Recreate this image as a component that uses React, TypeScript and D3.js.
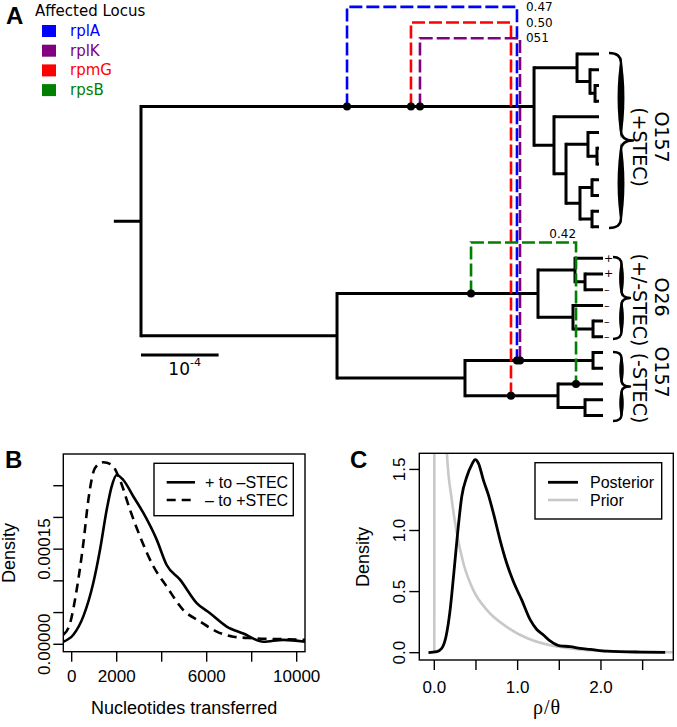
import React from 'react';
import * as d3 from 'd3';

const W = 677, H = 727;

// ---------- Panel A data ----------
const treeNewick =
  "((((R0:0.283,(R1:0.116,(R2:0.051,R3:0.051):0.065):0.167):0.554,(R4:0.580,((R5:0.142,(R6:0.026,R7:0.026):0.116):0.283,((R8:0.09,R9:0.09):0.155,(R10:0.09,R11:0.09):0.155):0.180):0.155):0.257)Astec:5.065,(((R13:0.361,(R14:0.232,R15:0.232):0.129):0.477,(R16:0.387,(R17:0.129,R18:0.129):0.258):0.451)O26:2.590,((R19:0.129,R20:0.129)Bm1:1.650,(R21:0.580,(R22:0.232,R23:0.232):0.348)Bm2:1.199):1.649)Bot:2.526)root;";

const loci = ["rplA", "rplK", "rpmG", "rpsB"];
const locusColors = ["#0000ff", "#800080", "#ff0000", "#008000"];

const eventLocus = ["rplA", "rpmG", "rplK", "rpsB"];
const eventDonor = ["Astec", "Astec", "Astec", "O26"];
const eventDonorPos = [2.655, 3.479, 3.595, 4.253];
const eventRecip = ["Bm1", "Bm2", "Bm1", "R21"];
const eventRecipPos = [4.845, 4.768, 4.884, 5.606];
const eventTopRow = [-3, -2, -1, 12];
const eventValue = ["0.47", "0.50", "051", "0.42"];

const signLeaves = ["R13", "R14", "R15", "R16", "R17", "R18"];
const signs = ["+", "+", "\u2013", "\u2013", "\u2013", "\u2013"];

// ---------- Panel B data ----------
const bSolidX = [-373, 73, 517, 962, 1259, 1556, 1778, 2000, 2296, 2741, 3185, 3778, 4222, 4815, 5556, 6148, 6889, 7630, 8519, 9407, 10370];
const bSolidY = [4e-6, 1.5e-5, 4.4e-5, 9.7e-5, 1.49e-4, 2.12e-4, 2.49e-4, 2.67e-4, 2.59e-4, 2.33e-4, 2.07e-4, 1.65e-4, 1.25e-4, 1.02e-4, 6.5e-5, 4.9e-5, 2.8e-5, 1.7e-5, 4e-6, 7e-6, 4e-6];
const bDashX = [-373, -74, 222, 517, 741, 1037, 1407, 1778, 2148, 2593, 3037, 3630, 4222, 4963, 5704, 6444, 7185, 8074, 9407, 10370];
const bDashY = [1.5e-5, 3.3e-5, 8.6e-5, 1.59e-4, 2.28e-4, 2.78e-4, 2.87e-4, 2.83e-4, 2.59e-4, 2.12e-4, 1.7e-4, 1.23e-4, 9.1e-5, 5.4e-5, 3.6e-5, 2e-5, 1.2e-5, 9.5e-6, 8e-6, 7e-6];
const bXTicks = [0, 2000, 4000, 6000, 8000, 10000];
const bXTickLabels = ["0", "2000", "", "6000", "", "10000"];
const bYTicks = [0, 5e-5, 1e-4, 1.5e-4, 2e-4, 2.5e-4];
const bYTickLabels = ["0.00000", "", "", "0.00015", "", ""];
const bLegend = ["+ to \u2013STEC", "\u2013 to +STEC"];

// ---------- Panel C data ----------
const cPostX = [-0.07, 0.03, 0.09, 0.14, 0.19, 0.23, 0.28, 0.33, 0.39, 0.45, 0.49, 0.53, 0.59, 0.65, 0.71, 0.79, 0.87, 0.95, 1.05, 1.15, 1.23, 1.31, 1.39, 1.51, 1.63, 1.75, 1.87, 2.07, 2.47, 2.77];
const cPostY = [0.0, 0.008, 0.036, 0.13, 0.35, 0.62, 0.98, 1.28, 1.44, 1.54, 1.58, 1.55, 1.41, 1.29, 1.14, 0.92, 0.73, 0.58, 0.43, 0.27, 0.19, 0.145, 0.096, 0.055, 0.05, 0.035, 0.027, 0.013, 0.005, 0.003];
const cPriorX = [0, 0.001, 0.05, 0.1, 0.15, 0.21, 0.27, 0.35, 0.47, 0.63, 0.87, 1.11, 1.47, 2.07, 2.87];
const cPriorY = [0, 40, 6, 2.6, 1.65, 1.25, 0.98, 0.73, 0.51, 0.35, 0.21, 0.12, 0.05, 0.013, 0.004];
const cXTicks = [0, 0.5, 1, 1.5, 2, 2.5];
const cXTickLabels = ["0.0", "", "1.0", "", "2.0", ""];
const cYTicks = [0, 0.5, 1, 1.5];
const cYTickLabels = ["0.0", "0.5", "1.0", "1.5"];
const cLegend = ["Posterior", "Prior"];

type NNode = { name: string; len: number; children: NNode[] };

function parseNewick(s: string): NNode {
  let i = 0;
  function node(): NNode {
    const n: NNode = { name: "", len: 0, children: [] };
    if (s[i] === "(") {
      i++;
      n.children.push(node());
      while (s[i] === ",") { i++; n.children.push(node()); }
      i++;
    }
    let name = "";
    while (i < s.length && !",():;".includes(s[i])) name += s[i++];
    n.name = name;
    if (s[i] === ":") {
      i++;
      let num = "";
      while (i < s.length && !",();".includes(s[i])) num += s[i++];
      n.len = +num;
    }
    return n;
  }
  return node();
}

function braceShapes(x0: number, x1: number, y0: number, y1: number) {
  const ym = (y0 + y1) / 2;
  const h = y1 - y0;
  const r = Math.min(0.09 * h, 10);
  const xm = x0 + 0.5 * (x1 - x0);
  const center = `M${x0},${y0} Q${xm},${y0} ${xm},${y0 + r} L${xm},${ym - r} Q${xm},${ym} ${x1},${ym} Q${xm},${ym} ${xm},${ym + r} L${xm},${y1 - r} Q${xm},${y1} ${x0},${y1}`;
  const t = Math.min(4.6, 2 + h * 0.015);
  const lens = (ya: number, yb: number) => {
    const k = yb - ya;
    return `M${xm},${ya} C${xm - t},${ya + k * 0.3} ${xm - t},${yb - k * 0.3} ${xm},${yb} C${xm + t},${yb - k * 0.3} ${xm + t},${ya + k * 0.3} ${xm},${ya}Z`;
  };
  return { center, lenses: [lens(y0 + r * 0.4, ym - r * 0.2), lens(ym + r * 0.2, y1 - r * 0.4)] };
}

const SANS = "Liberation Sans, Arial, sans-serif";
const DV = "DejaVu Sans, sans-serif";

export default function App() {
  // ---------- tree layout ----------
  const root: any = d3.hierarchy(parseNewick(treeNewick), (d: NNode) => (d.children.length ? d.children : null));
  root.eachBefore((n: any) => { n.dx = n.parent ? n.parent.dx + n.data.len : 0; });
  root.eachAfter((n: any) => {
    if (!n.children) n.row = +n.data.name.slice(1);
    else n.row = (n.children[0].row + n.children[n.children.length - 1].row) / 2;
  });
  const byName = new Map<string, any>();
  root.each((n: any) => { if (n.data.name) byName.set(n.data.name, n); });

  const xT = d3.scaleLinear().domain([0, 1]).range([141, 218.6]);
  const yT = d3.scaleLinear().domain([0, 23]).range([54, 415.4]);

  const hp = d3.path();
  const vp = d3.path();
  root.each((n: any) => {
    if (n.parent) { hp.moveTo(xT(n.parent.dx), yT(n.row)); hp.lineTo(xT(n.dx), yT(n.row)); }
    if (n.children) {
      vp.moveTo(xT(n.dx), yT(n.children[0].row));
      vp.lineTo(xT(n.dx), yT(n.children[n.children.length - 1].row));
    }
  });
  hp.moveTo(xT(-0.35), yT(root.row)); hp.lineTo(xT(0), yT(root.row));

  const events = eventLocus.map((loc, i) => {
    const d = byName.get(eventDonor[i]);
    const r = byName.get(eventRecip[i]);
    const color = locusColors[loci.indexOf(loc)];
    const dx = xT(eventDonorPos[i]), dy = yT(d.row);
    const rx = xT(eventRecipPos[i]), ry = yT(r.row);
    const ty = yT(eventTopRow[i]);
    return { color, dx, dy, rx, ry, ty, value: eventValue[i], top: eventTopRow[i] };
  });
  const topLabelX = d3.max(events.filter(e => e.top < 0), e => e.rx) as number;

  // ---------- panel B ----------
  const bx = d3.scaleLinear().domain([-373, 10370]).range([63.3, 305]);
  const by = d3.scaleLinear().domain([-1.17e-5, 3.0e-4]).range([651.7, 454]);
  const lineB = d3.line<number>().curve(d3.curveMonotoneX);
  const bSolid = lineB(bSolidX.map((x, i) => [bx(x), by(bSolidY[i])] as any) as any);
  const bDash = lineB(bDashX.map((x, i) => [bx(x), by(bDashY[i])] as any) as any);

  // ---------- panel C ----------
  const cx = d3.scaleLinear().domain([-0.18, 2.868]).range([419.3, 673.3]);
  const cy = d3.scaleLinear().domain([-0.06, 1.632]).range([660, 453.3]);
  const cPost = lineB(cPostX.map((x, i) => [cx(x), cy(cPostY[i])] as any) as any);
  const cPrior = lineB(cPriorX.map((x, i) => [cx(x), cy(cPriorY[i])] as any) as any);

  const [bL, bR] = bx.range();
  const [bB, bT] = by.range();
  const [cL, cR] = cx.range();
  const [cB, cT] = cy.range();

  const braces = [[609, 633, 53, 228], [613, 630, 257, 339], [613, 630, 352, 421]];

  return (
    <svg width={W} height={H} style={{ position: "absolute", left: 0, top: 0, background: "#fff" }}>
      <defs>
        <clipPath id="clipB"><rect x={bL} y={bT} width={bR - bL} height={bB - bT} /></clipPath>
        <clipPath id="clipC"><rect x={cL} y={cT} width={cR - cL} height={cB - cT} /></clipPath>
      </defs>

      {/* ================= Panel A ================= */}
      <text x={6} y={24} fontFamily={SANS} fontWeight="bold" fontSize={24}>A</text>
      <text x={35} y={16} fontFamily={DV} fontSize={15}>Affected Locus</text>
      {loci.map((l, i) => (
        <g key={l}>
          <rect x={42} y={25 + i * 19.7} width={14} height={12} fill={locusColors[i]} />
          <text x={70} y={31 + i * 19.7} dominantBaseline="central" fontFamily={DV} fontSize={15} fill={locusColors[i]}>{l}</text>
        </g>
      ))}

      <path d={hp.toString()} stroke="#000" strokeWidth={3} fill="none" strokeLinecap="butt" />
      <path d={vp.toString()} stroke="#000" strokeWidth={3} fill="none" strokeLinecap="square" />

      {signLeaves.map((nm, i) => {
        const n = byName.get(nm);
        return (
          <text key={nm} x={xT(n.dx) + 1} y={yT(n.row)} dominantBaseline="central" fontFamily={DV} fontSize={11}>{signs[i]}</text>
        );
      })}

      {events.map((e, i) => (
        <path key={i} d={`M${e.dx},${e.dy} V${e.ty} H${e.rx} V${e.ry}`} stroke={e.color} strokeWidth={2.6}
          fill="none" strokeDasharray="13,4" />
      ))}
      {events.map((e, i) => (
        <g key={"d" + i}>
          <circle cx={e.dx} cy={e.dy} r={4} fill="#000" />
          <circle cx={e.rx} cy={e.ry} r={4} fill="#000" />
        </g>
      ))}
      {events.map((e, i) =>
        e.top < 0 ? (
          <text key={"l" + i} x={topLabelX + 6} y={e.ty} dominantBaseline="central" fontFamily={DV} fontSize={12}>{e.value}</text>
        ) : (
          <text key={"l" + i} x={e.rx} y={e.ty - 5} textAnchor="end" fontFamily={DV} fontSize={12}>{e.value}</text>
        )
      )}

      {/* braces */}
      {braces.map((b, i) => {
        const s = braceShapes(b[0], b[1], b[2], b[3]);
        return (
          <g key={"b" + i}>
            <path d={s.center} stroke="#000" strokeWidth={2.4} fill="none" strokeLinejoin="round" />
            {s.lenses.map((l, j) => <path key={j} d={l} fill="#000" />)}
          </g>
        );
      })}
      <text transform="translate(655,137) rotate(90)" textAnchor="middle" fontFamily={DV} fontSize={19}>O157</text>
      <text transform="translate(633,147) rotate(90)" textAnchor="middle" fontFamily={DV} fontSize={19}>(+STEC)</text>
      <text transform="translate(655,297) rotate(90)" textAnchor="middle" fontFamily={DV} fontSize={19}>O26</text>
      <text transform="translate(633,300) rotate(90)" textAnchor="middle" fontFamily={DV} fontSize={19}>(+/-STEC)</text>
      <text transform="translate(655,372) rotate(90)" textAnchor="middle" fontFamily={DV} fontSize={19}>O157</text>
      <text transform="translate(633,388) rotate(90)" textAnchor="middle" fontFamily={DV} fontSize={19}>(-STEC)</text>

      {/* scale bar */}
      <line x1={xT(0)} x2={xT(1)} y1={355} y2={355} stroke="#000" strokeWidth={3} />
      <text x={190} y={375} fontFamily={DV} fontSize={17} textAnchor="end">10</text>
      <text x={190} y={366} fontFamily={DV} fontSize={11}>-4</text>

      {/* ================= Panel B ================= */}
      <text x={5} y={468} fontFamily={SANS} fontWeight="bold" fontSize={24}>B</text>
      <g clipPath="url(#clipB)">
        <path d={bDash as string} stroke="#000" strokeWidth={2.6} fill="none" strokeDasharray="9,6" />
        <path d={bSolid as string} stroke="#000" strokeWidth={2.6} fill="none" />
      </g>
      <rect x={bL} y={bT} width={bR - bL} height={bB - bT} fill="none" stroke="#000" strokeWidth={1.4} />
      {bXTicks.map((t, i) => (
        <g key={"bx" + t}>
          <line x1={bx(t)} x2={bx(t)} y1={bB} y2={bB + 10} stroke="#000" strokeWidth={1.4} />
          <text x={bx(t)} y={bB + 30} textAnchor="middle" fontFamily={SANS} fontSize={17}>{bXTickLabels[i]}</text>
        </g>
      ))}
      {bYTicks.map((t, i) => (
        <g key={"by" + t}>
          <line x1={bL} x2={bL - 10} y1={by(t)} y2={by(t)} stroke="#000" strokeWidth={1.4} />
          <text transform={`translate(50,${by(t)}) rotate(-90)`} textAnchor="middle" fontFamily={SANS} fontSize={17}>{bYTickLabels[i]}</text>
        </g>
      ))}
      <text transform={`translate(15,553) rotate(-90)`} textAnchor="middle" fontFamily={SANS} fontSize={18}>Density</text>
      <text x={(bL + bR) / 2} y={714} textAnchor="middle" fontFamily={SANS} fontSize={18}>Nucleotides transferred</text>
      <rect x={154} y={463.3} width={139.3} height={52.4} fill="#fff" stroke="#000" strokeWidth={1.4} />
      <line x1={166.7} x2={195} y1={482.3} y2={482.3} stroke="#000" strokeWidth={2.6} />
      <line x1={166.7} x2={195} y1={500} y2={500} stroke="#000" strokeWidth={2.6} strokeDasharray="9,6" />
      {bLegend.map((t, i) => (
        <text key={t} x={205} y={482.3 + i * 17.7} dominantBaseline="central" fontFamily={SANS} fontSize={16}>{t}</text>
      ))}

      {/* ================= Panel C ================= */}
      <text x={350} y={468} fontFamily={SANS} fontWeight="bold" fontSize={24}>C</text>
      <g clipPath="url(#clipC)">
        <path d={cPrior as string} stroke="#c8c8c8" strokeWidth={2.6} fill="none" />
        <path d={cPost as string} stroke="#000" strokeWidth={2.8} fill="none" />
      </g>
      <rect x={cL} y={cT} width={cR - cL} height={cB - cT} fill="none" stroke="#000" strokeWidth={1.4} />
      {cXTicks.map((t, i) => (
        <g key={"cx" + t}>
          <line x1={cx(t)} x2={cx(t)} y1={cB} y2={cB + 10} stroke="#000" strokeWidth={1.4} />
          <text x={cx(t)} y={cB + 33} textAnchor="middle" fontFamily={SANS} fontSize={17}>{cXTickLabels[i]}</text>
        </g>
      ))}
      {cYTicks.map((t, i) => (
        <g key={"cy" + t}>
          <line x1={cL} x2={cL - 10} y1={cy(t)} y2={cy(t)} stroke="#000" strokeWidth={1.4} />
          <text transform={`translate(405,${cy(t)}) rotate(-90)`} textAnchor="middle" fontFamily={SANS} fontSize={17}>{cYTickLabels[i]}</text>
        </g>
      ))}
      <text transform={`translate(369,557) rotate(-90)`} textAnchor="middle" fontFamily={SANS} fontSize={18}>Density</text>
      <text x={547} y={714} textAnchor="middle" fontFamily="Liberation Serif, serif" fontSize={20} letterSpacing={1}>{"\u03C1/\u03B8"}</text>
      <rect x={535} y={462.7} width={126.7} height={56.3} fill="#fff" stroke="#000" strokeWidth={1.4} />
      <line x1={548} x2={578} y1={482.3} y2={482.3} stroke="#000" strokeWidth={2.8} />
      <line x1={548} x2={578} y1={500} y2={500} stroke="#c8c8c8" strokeWidth={2.6} />
      {cLegend.map((t, i) => (
        <text key={t} x={590} y={482.3 + i * 17.7} dominantBaseline="central" fontFamily={SANS} fontSize={16}>{t}</text>
      ))}
    </svg>
  );
}
